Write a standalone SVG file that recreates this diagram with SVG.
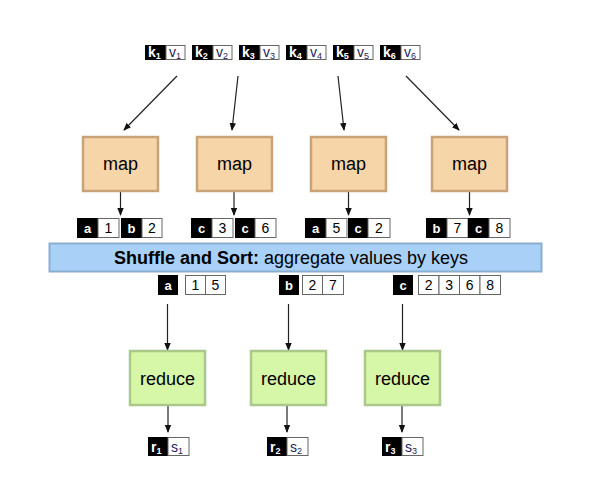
<svg xmlns="http://www.w3.org/2000/svg" width="591" height="487" viewBox="0 0 591 487">
<style>
text{font-family:"Liberation Sans",Arial,sans-serif}
.k{fill:#000}
.v{fill:#fff;stroke:#666;stroke-width:1}
.kt{fill:#fff;font-weight:bold;font-size:13px;text-anchor:middle}
.vt{fill:#000;font-size:14px;text-anchor:middle}
.map{fill:#f6d5a8;stroke:#c9a27a;stroke-width:2.5}
.red{fill:#d7f7a8;stroke:#a9c88a;stroke-width:2.5}
.lbl{fill:#000;font-size:18px;text-anchor:middle}
.c{stroke:#222;stroke-width:1.2;fill:none;marker-end:url(#ah)}
.tk{fill:#fff;font-weight:bold;font-size:14px}
.tv{fill:#1c1c5c;font-size:14px}
.sub{font-size:9px}
</style>
<defs>
<marker id="ah" markerWidth="8" markerHeight="8" viewBox="0 0 8 8" refX="7" refY="4" orient="auto" markerUnits="userSpaceOnUse">
<path d="M0,0.8 L8,4 L0,7.2 Z" fill="#111"/>
</marker>
</defs>

<g id="connectors">
<line class="c" x1="177" y1="76" x2="124" y2="130"/>
<line class="c" x1="238" y1="76" x2="232" y2="130"/>
<line class="c" x1="338" y1="76" x2="344" y2="130"/>
<line class="c" x1="406" y1="76" x2="459" y2="130"/>
<line class="c" x1="120.5" y1="192" x2="120.5" y2="215"/>
<line class="c" x1="234" y1="192" x2="234" y2="215"/>
<line class="c" x1="348.5" y1="192" x2="348.5" y2="215"/>
<line class="c" x1="469.5" y1="192" x2="469.5" y2="215"/>
<line class="c" x1="167.5" y1="304" x2="167.5" y2="350"/>
<line class="c" x1="288.5" y1="304" x2="288.5" y2="350"/>
<line class="c" x1="402.5" y1="304" x2="402.5" y2="350"/>
<line class="c" x1="168" y1="406" x2="168" y2="432"/>
<line class="c" x1="287" y1="406" x2="287" y2="432"/>
<line class="c" x1="402" y1="406" x2="402" y2="432"/>
</g>

<g id="inputs">
<g id="in1"><rect class="k" x="145" y="45" width="21" height="15"/><rect class="v" x="166" y="45.5" width="19" height="14"/>
<text class="tk" x="148" y="57">k<tspan class="sub" dy="2">1</tspan></text><text class="tv" x="169" y="57">v<tspan class="sub" dy="2">1</tspan></text></g>
<g id="in2"><rect class="k" x="192" y="45" width="21" height="15"/><rect class="v" x="213" y="45.5" width="19" height="14"/>
<text class="tk" x="195" y="57">k<tspan class="sub" dy="2">2</tspan></text><text class="tv" x="216" y="57">v<tspan class="sub" dy="2">2</tspan></text></g>
<g id="in3"><rect class="k" x="239" y="45" width="21" height="15"/><rect class="v" x="260" y="45.5" width="19" height="14"/>
<text class="tk" x="242" y="57">k<tspan class="sub" dy="2">3</tspan></text><text class="tv" x="263" y="57">v<tspan class="sub" dy="2">3</tspan></text></g>
<g id="in4"><rect class="k" x="286" y="45" width="21" height="15"/><rect class="v" x="307" y="45.5" width="19" height="14"/>
<text class="tk" x="289" y="57">k<tspan class="sub" dy="2">4</tspan></text><text class="tv" x="310" y="57">v<tspan class="sub" dy="2">4</tspan></text></g>
<g id="in5"><rect class="k" x="333" y="45" width="21" height="15"/><rect class="v" x="354" y="45.5" width="19" height="14"/>
<text class="tk" x="336" y="57">k<tspan class="sub" dy="2">5</tspan></text><text class="tv" x="357" y="57">v<tspan class="sub" dy="2">5</tspan></text></g>
<g id="in6"><rect class="k" x="380" y="45" width="21" height="15"/><rect class="v" x="401" y="45.5" width="19" height="14"/>
<text class="tk" x="383" y="57">k<tspan class="sub" dy="2">6</tspan></text><text class="tv" x="404" y="57">v<tspan class="sub" dy="2">6</tspan></text></g>
</g>

<g id="map1"><rect class="map" x="83" y="137" width="75" height="54"/><text class="lbl" x="120.5" y="170">map</text></g>
<g id="map2"><rect class="map" x="197" y="137" width="75" height="54"/><text class="lbl" x="234.5" y="170">map</text></g>
<g id="map3"><rect class="map" x="311" y="137" width="75" height="54"/><text class="lbl" x="348.5" y="170">map</text></g>
<g id="map4"><rect class="map" x="432" y="137" width="75" height="54"/><text class="lbl" x="469.5" y="170">map</text></g>

<g id="mapout1">
<rect class="k" x="77" y="218" width="21" height="20"/><rect class="v" x="98" y="218.5" width="21" height="19"/>
<rect class="k" x="121" y="218" width="21" height="20"/><rect class="v" x="142" y="218.5" width="20" height="19"/>
<text class="kt" x="87.5" y="233">a</text><text class="vt" x="108.5" y="233">1</text>
<text class="kt" x="131.5" y="233">b</text><text class="vt" x="152" y="233">2</text>
</g>
<g id="mapout2">
<rect class="k" x="191" y="218" width="21" height="20"/><rect class="v" x="212" y="218.5" width="21" height="19"/>
<rect class="k" x="235" y="218" width="20" height="20"/><rect class="v" x="255" y="218.5" width="21" height="19"/>
<text class="kt" x="201.5" y="233">c</text><text class="vt" x="222.5" y="233">3</text>
<text class="kt" x="245" y="233">c</text><text class="vt" x="265.5" y="233">6</text>
</g>
<g id="mapout3">
<rect class="k" x="305" y="218" width="21" height="20"/><rect class="v" x="326" y="218.5" width="21" height="19"/>
<rect class="k" x="348" y="218" width="20" height="20"/><rect class="v" x="368" y="218.5" width="22" height="19"/>
<text class="kt" x="315.5" y="233">a</text><text class="vt" x="336.5" y="233">5</text>
<text class="kt" x="358" y="233">c</text><text class="vt" x="379" y="233">2</text>
</g>
<g id="mapout4">
<rect class="k" x="426" y="218" width="21" height="20"/><rect class="v" x="447" y="218.5" width="21" height="19"/>
<rect class="k" x="468" y="218" width="21" height="20"/><rect class="v" x="489" y="218.5" width="21" height="19"/>
<text class="kt" x="436.5" y="233">b</text><text class="vt" x="457.5" y="233">7</text>
<text class="kt" x="478.5" y="233">c</text><text class="vt" x="499.5" y="233">8</text>
</g>

<g id="shuffle">
<rect x="49.5" y="243.5" width="492" height="28" fill="#a9d1f7" stroke="#8aaed0" stroke-width="2"/>
<text x="291" y="264" font-size="18" text-anchor="middle" fill="#000"><tspan font-weight="bold">Shuffle and Sort:</tspan> aggregate values by keys</text>
</g>

<g id="group_a">
<rect class="k" x="158" y="275" width="20" height="20"/>
<rect class="v" x="185.5" y="275.5" width="20" height="19"/><rect class="v" x="205.5" y="275.5" width="20" height="19"/>
<text class="kt" x="168" y="290">a</text><text class="vt" x="195.5" y="290">1</text><text class="vt" x="215.5" y="290">5</text>
</g>
<g id="group_b">
<rect class="k" x="279" y="275" width="20" height="20"/>
<rect class="v" x="302.5" y="275.5" width="20" height="19"/><rect class="v" x="322.5" y="275.5" width="21" height="19"/>
<text class="kt" x="289" y="290">b</text><text class="vt" x="312.5" y="290">2</text><text class="vt" x="333" y="290">7</text>
</g>
<g id="group_c">
<rect class="k" x="393" y="275" width="20" height="20"/>
<rect class="v" x="418.5" y="275.5" width="20.5" height="19"/><rect class="v" x="439" y="275.5" width="20.5" height="19"/><rect class="v" x="459.5" y="275.5" width="20.5" height="19"/><rect class="v" x="480" y="275.5" width="20.5" height="19"/>
<text class="kt" x="403" y="290">c</text><text class="vt" x="428.7" y="290">2</text><text class="vt" x="449.2" y="290">3</text><text class="vt" x="469.7" y="290">6</text><text class="vt" x="490.2" y="290">8</text>
</g>

<g id="reduce1"><rect class="red" x="130" y="351" width="75" height="54"/><text class="lbl" x="167.5" y="384.5">reduce</text></g>
<g id="reduce2"><rect class="red" x="251" y="351" width="75" height="54"/><text class="lbl" x="288.5" y="384.5">reduce</text></g>
<g id="reduce3"><rect class="red" x="365" y="351" width="75" height="54"/><text class="lbl" x="402.5" y="384.5">reduce</text></g>

<g id="out1"><rect class="k" x="148" y="437" width="20" height="19"/><rect class="v" x="168" y="437.5" width="21" height="18"/>
<text class="tk" x="151" y="452">r<tspan class="sub" dy="2">1</tspan></text><text class="tv" x="171" y="452">s<tspan class="sub" dy="2">1</tspan></text></g>
<g id="out2"><rect class="k" x="267" y="437" width="20" height="19"/><rect class="v" x="287" y="437.5" width="21" height="18"/>
<text class="tk" x="270" y="452">r<tspan class="sub" dy="2">2</tspan></text><text class="tv" x="290" y="452">s<tspan class="sub" dy="2">2</tspan></text></g>
<g id="out3"><rect class="k" x="382" y="437" width="20" height="19"/><rect class="v" x="402" y="437.5" width="21" height="18"/>
<text class="tk" x="385" y="452">r<tspan class="sub" dy="2">3</tspan></text><text class="tv" x="405" y="452">s<tspan class="sub" dy="2">3</tspan></text></g>
</svg>
